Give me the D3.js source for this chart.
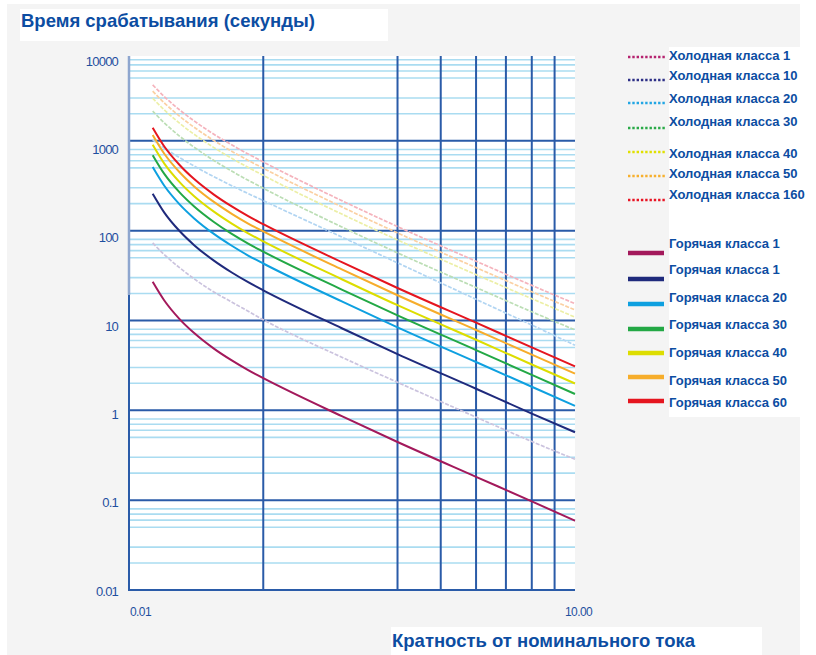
<!DOCTYPE html>
<html>
<head>
<meta charset="utf-8">
<script src="https://cdn.jsdelivr.net/npm/d3@7"></script>
<style>
body{margin:0;background:#fff;}
text{font-family:"Liberation Sans",Arial,sans-serif;}
</style>
</head>
<body>
<script>
const svg_width = 816, svg_height = 655;

// x = multiple of nominal current (log axis), y = trip time in seconds
const hotX  = [1.13, 1.2, 1.3, 1.4, 1.55, 1.7, 1.85, 2, 3, 4, 6, 8, 10];
const hot60 = [1400, 865, 535, 375, 252, 186, 145, 118, 44.6, 23.0, 9.45, 5.02, 3.08];
const hot50 = [1162, 718, 444, 311, 209, 154, 120, 98, 37, 19.1, 7.84, 4.17, 2.56];
const hot40 = [903, 558, 345, 242, 163, 120, 93.5, 76, 28.8, 14.8, 6.1, 3.24, 1.99];
const hot30 = [693, 428, 265, 186, 125, 92, 71.8, 58.4, 22.1, 11.4, 4.68, 2.48, 1.52];
const hot20 = [511, 316, 195, 137, 92, 67.9, 52.9, 43.1, 16.3, 8.4, 3.45, 1.83, 1.12];
const hot10 = [258, 159, 98.4, 69, 46.4, 34.2, 26.7, 21.7, 8.2, 4.23, 1.74, 0.92, 0.57];
const hot1  = [27, 16.7, 10.3, 7.24, 4.86, 3.59, 2.8, 2.28, 0.86, 0.444, 0.182, 0.097, 0.059];

const coldX  = [1.13, 1.2, 1.3, 1.5, 1.75, 2, 3, 4, 6, 8, 10];
const cold60 = [4200, 3110, 2200, 1316, 829, 582, 216, 111, 45.7, 24.6, 15.4];
const cold50 = [3570, 2640, 1870, 1119, 705, 495, 184, 94.4, 38.8, 20.9, 13.1];
const cold40 = [2980, 2208, 1562, 934, 589, 413, 153, 78.8, 32.4, 17.5, 10.9];
const cold30 = [2142, 1586, 1122, 671, 423, 297, 110, 56.6, 23.3, 12.5, 7.85];
const cold20 = [1025, 831, 648, 434, 295, 216, 85, 43.8, 17.2, 8.9, 5.3];
const cold1  = [73, 54, 38.5, 23, 14.8, 10.2, 3.9, 2.05, 0.84, 0.45, 0.285];

const coldNames = ["Холодная класса 1","Холодная класса 10","Холодная класса 20","Холодная класса 30","Холодная класса 40","Холодная класса 50","Холодная класса 160"];
const hotNames  = ["Горячая класса 1","Горячая класса 1","Горячая класса 20","Горячая класса 30","Горячая класса 40","Горячая класса 50","Горячая класса 60"];

const xTicks = [1, 10], xTickLabels = ["0.01", "10.00"];
const xGrid = [2, 4, 5, 6, 7, 8, 9];
const yTicks = [0.01, 0.1, 1, 10, 100, 1000, 10000];
const yTickLabels = ["0.01", "0.1", "1", "10", "100", "1000", "10000"];
const yMajor = [0.1, 1, 10, 100, 1000];
const yMinorMult = [2, 3, 5, 6, 7, 8];

const titleText = "Время срабатывания (секунды)";
const xTitleText = "Кратность от номинального тока";

// colours
const hotColors  = ["#a3195b","#1f2a7c","#0ea0e0","#23a845","#dddd00","#f6ad2b","#e5151f"];
const coldLegendColors = ["#b5236f","#2d2f86","#22a6e4","#2aaa48","#e0e000","#f7b02e","#e81424"];
const blueText = "#0c4da2", gridDark = "#2a5ba8", gridLight = "#aadcf1";

const line_start = 129, line_end = 575, plot_top = 56, plot_bottom = 590;

var svg = d3.select("body").append("svg")
            .attr("width", svg_width)
            .attr("height", svg_height);

var xScale = d3.scaleLog().domain([1, 10]).range([line_start, line_end]);
var yScale = d3.scaleLog().domain([0.01, 10000]).range([plot_bottom, 51]);
var yLabelScale = d3.scaleLog().domain([0.01, 10000]).range([591, 61]);

// backgrounds
svg.append("rect").attr("x",7).attr("y",4).attr("width",793).attr("height",651).attr("fill","#f4f4f4");
svg.append("rect").attr("x",20).attr("y",9).attr("width",368).attr("height",32).attr("fill","#fff");
svg.append("text").attr("x",21).attr("y",27)
   .attr("font-size","18.5px").attr("font-weight","bold").attr("fill",blueText)
   .text(titleText);
svg.append("rect").attr("x",line_start).attr("y",plot_top)
   .attr("width",line_end-line_start).attr("height",plot_bottom-plot_top).attr("fill","#fff");

var grid = svg.append("g");
// minor horizontal lines
var minor = [];
for (var d = 0.01; d < 5000; d *= 10) {
	yMinorMult.forEach(function(m){
		var v = +(d*m).toPrecision(3);
		if (yScale(v) > plot_top + 2) minor.push(v);
	});
}
grid.selectAll("line.minor").data(minor).enter().append("line")
	.attr("class","minor")
	.attr("x1",line_start).attr("x2",line_end)
	.attr("y1",function(d){return yScale(d)}).attr("y2",function(d){return yScale(d)})
	.attr("stroke",gridLight).attr("stroke-width",1.6);
grid.selectAll("line.major").data(yMajor).enter().append("line")
	.attr("class","major")
	.attr("x1",line_start).attr("x2",line_end)
	.attr("y1",function(d){return yScale(d)}).attr("y2",function(d){return yScale(d)})
	.attr("stroke",gridDark).attr("stroke-width",2);
grid.selectAll("line.vert").data(xGrid).enter().append("line")
	.attr("class","vert")
	.attr("x1",function(d){return xScale(d)}).attr("x2",function(d){return xScale(d)})
	.attr("y1",plot_top).attr("y2",plot_bottom)
	.attr("stroke",gridDark).attr("stroke-width",2);

// axes
grid.append("line").attr("x1",line_start).attr("x2",line_start).attr("y1",plot_top).attr("y2",295)
	.attr("stroke","#8ea6cf").attr("stroke-width",2.5);
grid.append("line").attr("x1",line_start).attr("x2",line_start).attr("y1",295).attr("y2",plot_bottom+1)
	.attr("stroke",gridDark).attr("stroke-width",2);
grid.append("line").attr("x1",line_start).attr("x2",line_end).attr("y1",plot_bottom).attr("y2",plot_bottom)
	.attr("stroke",gridDark).attr("stroke-width",2);

svg.selectAll("text.ylab").data(yTicks).enter().append("text")
	.attr("class","ylab")
	.attr("x",118).attr("y",function(d){return yLabelScale(d)}).attr("dy","0.35em")
	.attr("text-anchor","end").attr("font-size","13px").attr("letter-spacing","-0.8px")
	.attr("fill","#1f4f9f")
	.text(function(d,i){return yTickLabels[i]});
svg.selectAll("text.xlab").data(xTicks).enter().append("text")
	.attr("class","xlab")
	.attr("x",function(d,i){return i == 0 ? xScale(d)+1 : xScale(d)-10}).attr("y",616)
	.attr("font-size","12px").attr("letter-spacing","-0.6px")
	.attr("fill","#1f4f9f")
	.text(function(d,i){return xTickLabels[i]});

// curves
var lineGen = d3.line()
	.x(function(d){return xScale(d.x)})
	.y(function(d){return yScale(d.y)})
	.curve(d3.curveMonotoneX);
function toPoints(xs, ys){
	return xs.map(function(x,i){return {x:x, y:ys[i]}});
}
var coldCurves = [
	{ys:cold1,  color:"#cbc3de"},
	{ys:cold20, color:"#b2d5f2"},
	{ys:cold30, color:"#bcdeb5"},
	{ys:cold40, color:"#ecefa6"},
	{ys:cold50, color:"#fbd0a2"},
	{ys:cold60, color:"#f5b3bc"}
];
var hotCurves = [hot1, hot10, hot20, hot30, hot40, hot50, hot60];

var curveGroup = svg.append("g");
coldCurves.forEach(function(c){
	curveGroup.append("path")
		.attr("d", lineGen(toPoints(coldX, c.ys)))
		.attr("fill","none").attr("stroke",c.color)
		.attr("stroke-width",1.7).attr("stroke-dasharray","4,1.5");
});
hotCurves.forEach(function(ys,i){
	curveGroup.append("path")
		.attr("d", lineGen(toPoints(hotX, ys)))
		.attr("fill","none").attr("stroke",hotColors[i])
		.attr("stroke-width",2);
});

// legend
const coldTextY = [55, 75, 98, 121.5, 153, 173, 194];
const coldLineY = [57, 80, 103, 128, 152, 176, 200];
const hotTextY  = [243, 269, 297, 324, 352, 380, 402];
const hotLineY  = [253, 279, 304, 329, 353, 377, 401];

var legend = svg.append("g");
legend.append("rect").attr("x",669).attr("y",47).attr("width",131).attr("height",370).attr("fill","#fff");
legend.selectAll("line.cold").data(coldNames).enter().append("line")
	.attr("class","cold")
	.attr("x1",628).attr("x2",666)
	.attr("y1",function(d,i){return coldLineY[i]}).attr("y2",function(d,i){return coldLineY[i]})
	.attr("stroke",function(d,i){return coldLegendColors[i]})
	.attr("stroke-width",2.5).attr("stroke-dasharray","2.4,1.9");
legend.selectAll("text.cold").data(coldNames).enter().append("text")
	.attr("class","cold")
	.attr("x",669).attr("y",function(d,i){return coldTextY[i]}).attr("dy","0.35em")
	.attr("font-size","13px").attr("font-weight","bold").attr("fill",blueText)
	.text(function(d){return d});
legend.selectAll("line.hot").data(hotNames).enter().append("line")
	.attr("class","hot")
	.attr("x1",628).attr("x2",664)
	.attr("y1",function(d,i){return hotLineY[i]}).attr("y2",function(d,i){return hotLineY[i]})
	.attr("stroke",function(d,i){return hotColors[i]})
	.attr("stroke-width",4.5);
legend.selectAll("text.hot").data(hotNames).enter().append("text")
	.attr("class","hot")
	.attr("x",669).attr("y",function(d,i){return hotTextY[i]}).attr("dy","0.35em")
	.attr("font-size","13px").attr("font-weight","bold").attr("fill",blueText)
	.text(function(d){return d});

// x axis title
svg.append("rect").attr("x",391).attr("y",627).attr("width",371).attr("height",28).attr("fill","#fff");
svg.append("text").attr("x",392).attr("y",647)
   .attr("font-size","18.5px").attr("font-weight","bold").attr("fill",blueText)
   .text(xTitleText);
</script>
</body>
</html>
